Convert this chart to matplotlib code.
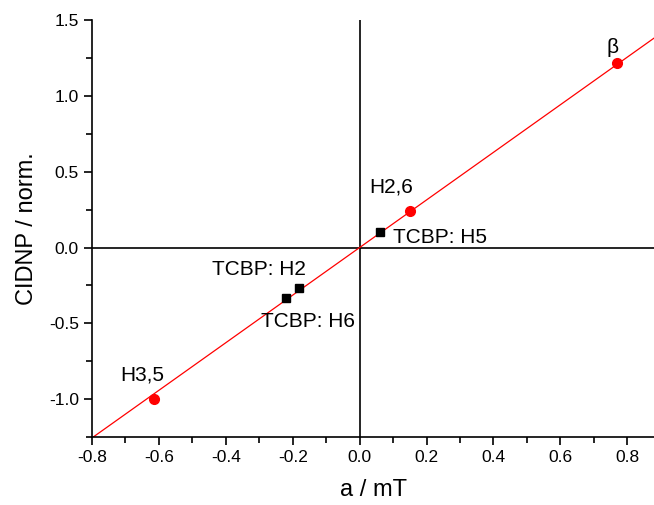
import numpy as np
import matplotlib.pyplot as plt
from matplotlib.ticker import MultipleLocator

plt.rcParams['font.family'] = ['Liberation Sans', 'DejaVu Sans']
plt.rcParams['axes.unicode_minus'] = False

# red points (radical ion protons)
a_red = [0.77, 0.15, -0.615]
cidnp_red = [1.22, 0.24, -1.00]
labels_red = ["β", "H2,6", "H3,5"]

# black squares (TCBP)
a_black = [0.06, -0.18, -0.22]
cidnp_black = [0.10, -0.27, -0.33]
labels_black = ["TCBP: H5", "TCBP: H2", "TCBP: H6"]

slope = 1.57  # linear fit through origin

fig = plt.figure(figsize=(6.54, 5.05), dpi=100)
ax = fig.add_axes([0.1407, 0.1347, 0.8593, 0.8253])

xfit = np.array([-0.8, 0.88])
ax.plot(xfit, slope * xfit, color='red', lw=0.9, zorder=2)
ax.axhline(0, color='black', lw=1.2, zorder=1)
ax.axvline(0, color='black', lw=1.2, zorder=1)

ax.plot(a_red, cidnp_red, 'o', color='red', ms=7, zorder=3)
ax.plot(a_black, cidnp_black, 's', color='black', ms=5.5, zorder=3)

# label positions
pos_red = [(0.755, 1.32), (0.095, 0.40), (-0.65, -0.84)]
pos_black = [(0.10, 0.065), (-0.30, -0.145), (-0.155, -0.485)]
for t, (x, y) in zip(labels_red, pos_red):
    ax.text(x, y, t, fontsize=15, ha='center', va='center')
for t, (x, y), ha in zip(labels_black, pos_black, ['left', 'center', 'center']):
    ax.text(x, y, t, fontsize=15, ha=ha, va='center')

ax.set_xlim(-0.8, 0.88)
ax.set_ylim(-1.25, 1.5)
ax.xaxis.set_major_locator(MultipleLocator(0.2))
ax.xaxis.set_minor_locator(MultipleLocator(0.1))
ax.yaxis.set_major_locator(MultipleLocator(0.5))
ax.yaxis.set_minor_locator(MultipleLocator(0.25))
ax.tick_params(which='both', direction='out', width=1.2, labelsize=12.5)
ax.tick_params(which='major', length=6)
ax.tick_params(which='minor', length=4)
ax.spines['top'].set_visible(False)
ax.spines['right'].set_visible(False)
ax.spines['left'].set_linewidth(1.2)
ax.spines['bottom'].set_linewidth(1.2)

ax.set_xlabel("a / mT", fontsize=17, labelpad=10)
ax.set_ylabel("CIDNP / norm.", fontsize=17, labelpad=8)

fig.savefig("out.png", dpi=100)
